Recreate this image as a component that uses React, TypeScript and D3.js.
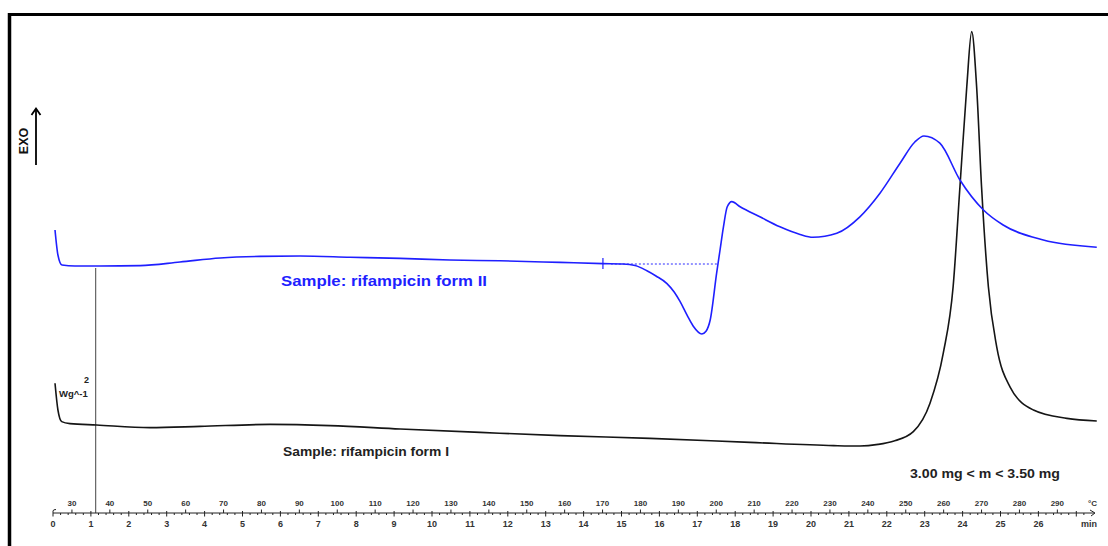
import React from "react";
import * as d3 from "d3";

// time (min) and heat-flow (arbitrary W/g units) for the two DSC curves
const formIITime = [0.053, 0.13, 0.237, 0.58, 1.24, 2.3, 3.35, 4.41, 5.46, 6.52, 7.84, 9.16, 10.47, 11.79, 13.38, 14.51, 15.04, 15.36, 15.67, 15.91, 16.2, 16.39, 16.54, 16.73, 16.89, 17.12, 17.23, 17.34, 17.51, 17.6, 17.69, 17.79, 17.91, 18.13, 18.65, 19.18, 19.71, 20.05, 20.68, 21.29, 21.82, 22.35, 22.74, 22.98, 23.4, 23.93, 24.55, 25.07, 26.13, 27.54];
const formIIFlow = [5.4, 4.775, 4.525, 4.5, 4.5, 4.51, 4.6, 4.7, 4.74, 4.75, 4.72, 4.69, 4.65, 4.63, 4.59, 4.56, 4.55, 4.51, 4.38, 4.25, 4.06, 3.85, 3.62, 3.27, 3.0, 2.8, 2.87, 3.15, 4.32, 4.9, 5.48, 5.98, 6.11, 5.98, 5.73, 5.48, 5.29, 5.22, 5.32, 5.73, 6.32, 7.07, 7.6, 7.75, 7.57, 6.65, 5.9, 5.525, 5.15, 4.97];

const formITime = [0.053, 0.13, 0.23, 0.45, 1.15, 2.56, 3.88, 5.73, 7.31, 9.16, 11.27, 13.38, 15.75, 18.39, 20.6, 21.29, 21.77, 22.17, 22.7, 23.14, 23.49, 23.75, 23.93, 24.11, 24.24, 24.37, 24.5, 24.68, 24.9, 25.25, 25.87, 26.75, 27.54];
const formIFlow = [1.57, 0.9, 0.61, 0.56, 0.525, 0.46, 0.49, 0.54, 0.51, 0.425, 0.34, 0.26, 0.19, 0.09, 0.01, 0.0, 0.04, 0.12, 0.36, 1.07, 2.32, 3.98, 6.48, 8.98, 10.36, 8.98, 6.48, 3.98, 2.48, 1.48, 0.9, 0.69, 0.625];

// baseline construction on form II (onset marker and dashed baseline)
const onsetMarkerTime = 14.51;
const baselineStart = 14.72;
const baselineEnd = 17.52;
const baselineFlow = 4.55;

// vertical reference line (min)
const refLineTime = 1.127;

// axis tick labels
const minuteTicks = d3.range(0, 27, 1);
const tempTicks = d3.range(30, 300, 10);
const tempOffset = 25; // °C at t = 0
const heatingRate = 10; // °C / min

const labelFormII = "Sample: rifampicin form II";
const labelFormI = "Sample: rifampicin form I";
const massLabel = "3.00 mg < m < 3.50 mg";

const FONT = "'Liberation Sans', Arial, sans-serif";

export default function App() {
  const W = 1108;
  const H = 546;
  const tMax = 27.54;
  const x = d3.scaleLinear().domain([0, tMax]).range([53, 53 + tMax * 37.9]);
  const y = d3.scaleLinear().domain([0, 10]).range([446, 46]);
  const axisY = 513;

  const line = d3
    .line<[number, number]>()
    .x((d) => x(d[0]))
    .y((d) => y(d[1]))
    .curve(d3.curveMonotoneX);

  const formII = formIITime.map((t, i) => [t, formIIFlow[i]] as [number, number]);
  const formI = formITime.map((t, i) => [t, formIFlow[i]] as [number, number]);

  const tToX = (T: number) => x((T - tempOffset) / heatingRate);

  const minorTicks = d3.range(0, 27.4, 0.2);
  const tempMinor = d3.range(30, 296, 5);

  return (
    <svg
      width={W}
      height={H}
      style={{ position: "absolute", left: 0, top: 0, background: "#fff" }}
      fontFamily={FONT}
    >
      <rect x={0} y={0} width={W} height={H} fill="#fff" />
      {/* frame */}
      <line x1={8} x2={W} y1={14.5} y2={14.5} stroke="#000" strokeWidth={3} />
      <line x1={9.5} x2={9.5} y1={13} y2={H} stroke="#000" strokeWidth={3.5} />

      {/* EXO arrow */}
      <text
        transform="translate(28,141) rotate(-90)"
        textAnchor="middle"
        fontSize={12.5}
        fontWeight="bold"
        fill="#111"
      >
        EXO
      </text>
      <line x1={36} x2={36} y1={165} y2={109} stroke="#000" strokeWidth={1.8} />
      <polyline points="31.5,115 36,108.5 40.5,115" fill="none" stroke="#000" strokeWidth={1.8} />

      {/* scale label */}
      <text x={59} y={397} fontSize={9.5} fontWeight="bold" fill="#222">
        Wg^-1
      </text>
      <text x={84} y={383} fontSize={9} fontWeight="bold" fill="#222">
        2
      </text>

      {/* reference vertical line */}
      <line
        x1={x(refLineTime)}
        x2={x(refLineTime)}
        y1={268}
        y2={axisY}
        stroke="#444"
        strokeWidth={1}
      />

      {/* curves */}
      <path d={line(formI) || ""} fill="none" stroke="#151515" strokeWidth={1.6} />
      <path d={line(formII) || ""} fill="none" stroke="#1f1fff" strokeWidth={1.6} />

      {/* baseline construction */}
      <line
        x1={x(baselineStart)}
        x2={x(baselineEnd)}
        y1={y(baselineFlow)}
        y2={y(baselineFlow)}
        stroke="#2b2bff"
        strokeWidth={1}
        strokeDasharray="2,2"
      />
      <line
        x1={x(onsetMarkerTime)}
        x2={x(onsetMarkerTime)}
        y1={y(baselineFlow) - 6}
        y2={y(baselineFlow) + 5}
        stroke="#1f1fff"
        strokeWidth={1.2}
      />

      {/* labels */}
      <text x={281} y={286} fontSize={15} fontWeight="bold" fill="#1f1fff" textLength={206} lengthAdjust="spacingAndGlyphs">
        {labelFormII}
      </text>
      <text x={283} y={456} fontSize={13.5} fontWeight="bold" fill="#222" textLength={166} lengthAdjust="spacingAndGlyphs">
        {labelFormI}
      </text>
      <text x={910} y={478} fontSize={13} fontWeight="bold" fill="#222" textLength={150} lengthAdjust="spacingAndGlyphs">
        {massLabel}
      </text>

      {/* bottom axis */}
      <line x1={x(0)} x2={1094} y1={axisY} y2={axisY} stroke="#222" strokeWidth={1} />
      <path d={`M${x(0)},${axisY} L${x(0)},${axisY - 2} Q${x(0)},${axisY - 3.5} ${x(0) + 3},${axisY - 3.5}`} fill="none" stroke="#222" strokeWidth={1} />
      <polyline points={`1090,${axisY - 3} 1095,${axisY} 1091,${axisY + 3}`} fill="none" stroke="#222" strokeWidth={1} />
      {minorTicks.map((t, i) => (
        <line
          key={"mn" + i}
          x1={x(t)}
          x2={x(t)}
          y1={axisY}
          y2={axisY + (Math.abs(t - Math.round(t)) < 1e-6 ? 3.5 : 2)}
          stroke="#222"
          strokeWidth={1}
        />
      ))}
      {tempMinor.map((T) => (
        <line
          key={"tm" + T}
          x1={tToX(T)}
          x2={tToX(T)}
          y1={axisY}
          y2={axisY - (T % 10 === 0 ? 3.5 : 2)}
          stroke="#222"
          strokeWidth={1}
        />
      ))}
      {tempTicks.map((T) => (
        <text
          key={"tl" + T}
          x={tToX(T)}
          y={506}
          textAnchor="middle"
          fontSize={8}
          fontWeight="bold"
          fill="#333"
        >
          {T}
        </text>
      ))}
      <text x={1097} y={506} textAnchor="end" fontSize={8} fontWeight="bold" fill="#333">
        °C
      </text>
      {minuteTicks.map((m) => (
        <text
          key={"ml" + m}
          x={x(m)}
          y={527}
          textAnchor="middle"
          fontSize={9}
          fontWeight="bold"
          fill="#333"
        >
          {m}
        </text>
      ))}
      <text x={1097} y={527} textAnchor="end" fontSize={9} fontWeight="bold" fill="#333">
        min
      </text>
    </svg>
  );
}
